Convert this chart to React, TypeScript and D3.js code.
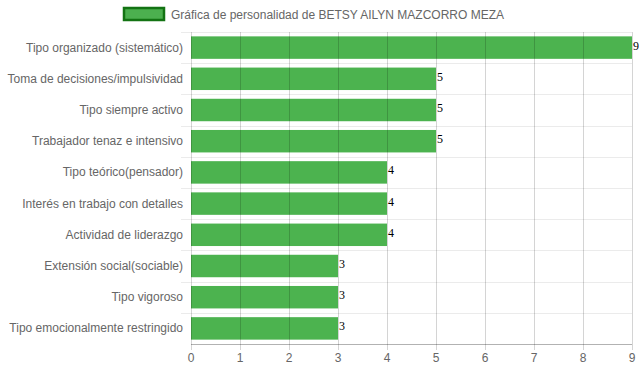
import React, { useEffect, useRef } from 'react'
import * as d3 from 'd3'

const categories = [
  'Tipo organizado (sistemático)',
  'Toma de decisiones/impulsividad',
  'Tipo siempre activo',
  'Trabajador tenaz e intensivo',
  'Tipo teórico(pensador)',
  'Interés en trabajo con detalles',
  'Actividad de liderazgo',
  'Extensión social(sociable)',
  'Tipo vigoroso',
  'Tipo emocionalmente restringido',
]
const values = [9, 5, 5, 5, 4, 4, 4, 3, 3, 3]
const xTicks = [0, 1, 2, 3, 4, 5, 6, 7, 8, 9]
const seriesLabel = 'Gráfica de personalidad de BETSY AILYN MAZCORRO MEZA'

export default function App() {
  const svgRef = useRef<SVGSVGElement | null>(null)
  const width = 639
  const height = 372

  useEffect(() => {
    const svg = d3.select(svgRef.current)
    svg.selectAll('*').remove()

    const left = 191, right = 632, top = 32, bottom = 344
    const font = '"Liberation Sans", Arial, sans-serif'

    const x = d3.scaleLinear().domain([0, 9]).range([left, right])
    const y = d3.scaleBand().domain(categories).range([top, bottom]).padding(0)
    const bw = y.bandwidth()

    // legend
    svg.append('rect')
      .attr('x', 124).attr('y', 8).attr('width', 40).attr('height', 12)
      .attr('fill', '#4cb04f').attr('stroke', '#137313').attr('stroke-width', 2.5)
    svg.append('text')
      .attr('x', 171).attr('y', 19)
      .attr('font-family', font).attr('font-size', 12).attr('fill', '#666')
      .text(seriesLabel)

    // horizontal grid (band boundaries)
    const hb = d3.range(categories.length + 1).map(i => top + i * bw)
    svg.append('g').selectAll('line').data(hb.slice(0, -1)).join('line')
      .attr('x1', left - 10).attr('x2', right)
      .attr('y1', d => Math.round(d) + 0.5).attr('y2', d => Math.round(d) + 0.5)
      .attr('stroke', 'rgba(0,0,0,0.08)')

    // bars
    svg.append('g').selectAll('rect').data(values).join('rect')
      .attr('x', x(0))
      .attr('y', (_, i) => (y(categories[i]) as number) + bw * 0.14)
      .attr('width', d => x(d) - x(0))
      .attr('height', bw * 0.72)
      .attr('fill', '#4cb34f')

    // vertical grid
    svg.append('g').selectAll('line').data(xTicks).join('line')
      .attr('x1', d => Math.round(x(d)) + 0.5).attr('x2', d => Math.round(x(d)) + 0.5)
      .attr('y1', top).attr('y2', bottom + 6)
      .attr('stroke', 'rgba(0,0,0,0.17)')

    // x axis line
    svg.append('line')
      .attr('x1', left).attr('x2', right)
      .attr('y1', bottom + 0.5).attr('y2', bottom + 0.5)
      .attr('stroke', 'rgba(0,0,0,0.3)')

    // x tick labels
    svg.append('g').selectAll('text').data(xTicks).join('text')
      .attr('x', d => x(d)).attr('y', 362)
      .attr('text-anchor', 'middle')
      .attr('font-family', font).attr('font-size', 12).attr('fill', '#666')
      .text(d => String(d))

    // y labels
    svg.append('g').selectAll('text').data(categories).join('text')
      .attr('x', 183)
      .attr('y', d => (y(d) as number) + bw / 2 + 4)
      .attr('text-anchor', 'end')
      .attr('font-family', font).attr('font-size', 12).attr('fill', '#666')
      .text(d => d)

    // value labels
    svg.append('g').selectAll('text').data(values).join('text')
      .attr('x', d => x(d) + 1)
      .attr('y', (_, i) => (y(categories[i]) as number) + bw / 2 + 2)
      .attr('font-family', '"Liberation Serif", "Times New Roman", serif').attr('font-size', 12).attr('fill', '#000')
      .text(d => String(d))
  }, [])

  return (
    <svg ref={svgRef} width={width} height={height}
      style={{ position: 'absolute', left: 0, top: 0, background: '#fff' }} />
  )
}
